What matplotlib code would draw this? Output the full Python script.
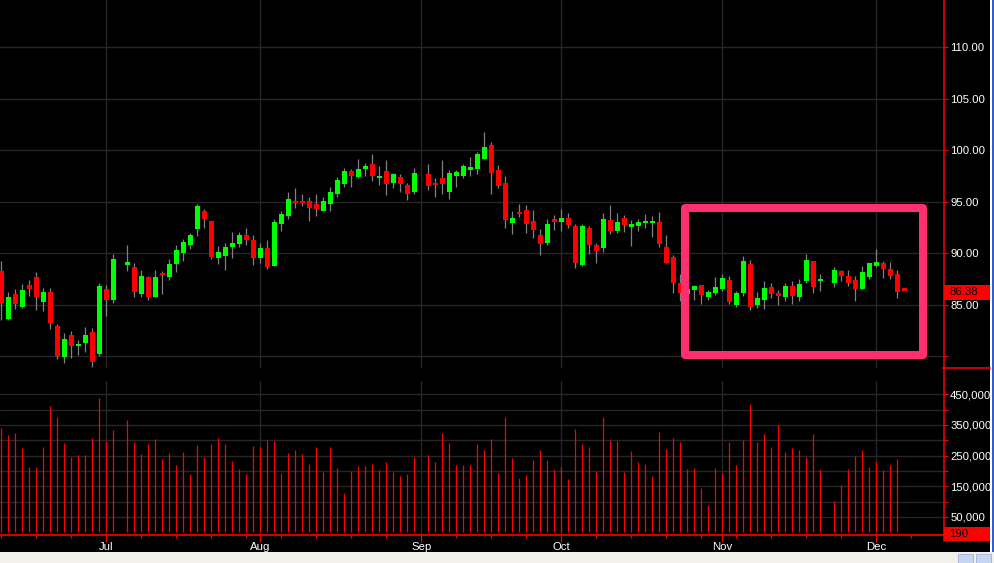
"""
Daily candlestick chart with volume panel (black terminal style)
"""

import numpy as np
import matplotlib.pyplot as plt
from matplotlib.patches import Rectangle
from matplotlib.lines import Line2D
from matplotlib.transforms import blended_transform_factory

nan = np.nan

# ==================== Data ====================
# one slot per trading day, nan = market holiday (Jul 4, Labor Day, Thanksgiving)
opens = [88.23, 83.6, 86.0, 84.83, 86.91, 87.65, 85.22, 86.19, 82.89, 79.92,
         82.02, 80.95, 81.24, 82.31, 80.17, 86.49, 85.42, nan, 88.85, 88.62,
         86.0, 87.65, 85.8, 88.07, 87.65, 88.91, 89.98, 90.85, 92.33, 94.15,
         93.18, 89.53, 89.72, 90.6, 90.88, 91.73, 91.24, 89.53, 90.47, 88.75,
         92.83, 93.57, 95.06, 95.06, 95.03, 94.83, 94.15, 94.74, 95.71, 96.68,
         97.94, 97.36, 98.14, 98.62, 97.26, 97.94, 96.87, 97.36, 96.58, 95.9,
         nan, 97.65, 96.87, 97.26, 95.9, 97.46, 97.46, 98.04, 98.14, 99.2,
         100.47, 98.04, 96.81, 92.93, 93.87, 94.16, 93.09, 91.73, 90.95, 93.28,
         92.99, 93.38, 92.6, 88.82, 92.41, 90.76, 90.47, 93.19, 92.12, 93.38,
         92.51, 92.6, 92.89, 92.93, 92.99, 90.57, 89.59, 87.07, 86.0, 86.39,
         86.87, 85.71, 86.1, 86.49, 87.36, 84.99, 86.1, 88.91, 84.93, 85.42,
         86.68, 86.1, 85.71, 86.78, 85.71, 87.26, 89.2, 87.26, nan, 87.07,
         88.23, 87.84, 87.36, 86.49, 87.65, 88.81, 89.01, 88.52, 87.94, 86.38]
highs = [89.2, 86.2, 86.49, 86.97, 87.36, 88.17, 86.58, 86.58, 83.09, 82.21,
         82.5, 81.53, 82.8, 82.7, 87.16, 86.87, 89.88, nan, 90.85, 89.01,
         88.33, 87.84, 88.33, 88.23, 89.49, 90.85, 91.34, 91.92, 94.83, 94.25,
         93.18, 90.66, 90.95, 92.02, 92.02, 92.5, 91.82, 90.95, 91.24, 93.28,
         94.06, 95.98, 96.29, 95.8, 95.42, 95.71, 95.51, 96.48, 97.36, 98.23,
         98.14, 99.11, 98.81, 99.59, 98.43, 99.01, 97.84, 97.65, 96.87, 98.23,
         nan, 98.62, 97.26, 99.01, 98.04, 98.04, 98.62, 99.3, 99.88, 101.73,
         100.85, 98.53, 97.46, 94.06, 94.74, 94.64, 94.16, 92.31, 93.28, 93.67,
         94.25, 93.87, 92.8, 92.8, 92.6, 90.95, 93.87, 94.64, 93.87, 93.67,
         93.19, 93.28, 93.77, 93.57, 93.96, 91.73, 89.79, 87.94, 86.9, 86.87,
         86.87, 86.39, 87.65, 87.94, 87.75, 86.29, 89.69, 89.3, 86.2, 87.26,
         87.07, 86.39, 87.16, 87.26, 87.46, 89.88, 89.2, 87.94, nan, 88.62,
         88.33, 88.33, 87.84, 88.72, 89.01, 90.37, 89.2, 89.11, 88.33, 86.38]
lows = [83.5, 83.5, 84.54, 84.64, 85.84, 84.45, 84.35, 82.6, 79.69, 79.33,
        79.82, 80.08, 80.37, 79.0, 79.98, 83.86, 85.13, nan, 88.23, 85.8,
        85.71, 85.42, 85.8, 86.0, 87.36, 88.14, 89.2, 90.37, 91.66, 92.41,
        89.4, 88.94, 88.36, 89.53, 90.6, 90.76, 88.85, 89.01, 88.46, 88.75,
        92.15, 93.28, 94.35, 94.54, 93.18, 93.57, 94.06, 94.15, 95.42, 96.48,
        96.48, 97.26, 97.46, 96.97, 96.58, 95.61, 96.29, 95.9, 95.13, 95.71,
        nan, 96.19, 95.42, 95.8, 95.22, 96.48, 97.26, 97.46, 97.65, 99.2,
        95.8, 96.29, 92.41, 91.83, 93.48, 91.92, 91.44, 89.79, 90.76, 92.22,
        92.12, 92.41, 88.56, 88.72, 89.88, 89.01, 90.08, 91.83, 91.92, 92.02,
        90.66, 92.12, 92.41, 91.54, 90.57, 89.01, 86.1, 85.35, 85.7, 85.42,
        85.03, 85.51, 85.9, 86.29, 85.03, 84.74, 85.81, 84.45, 84.64, 84.54,
        85.61, 84.93, 85.32, 85.03, 85.32, 87.07, 86.1, 86.29, nan, 86.68,
        87.26, 86.78, 85.32, 86.49, 87.46, 88.62, 87.55, 87.46, 85.61, 86.38]
closes = [85.16, 85.8, 85.03, 86.39, 86.49, 85.74, 86.19, 83.22, 80.01, 81.63,
          80.95, 81.15, 82.02, 79.4, 86.78, 85.51, 89.49, nan, 89.11, 86.19,
          87.84, 85.71, 87.65, 87.88, 88.91, 90.27, 91.05, 91.73, 94.54, 93.28,
          89.63, 90.08, 90.56, 90.95, 91.73, 91.27, 89.53, 90.47, 88.65, 92.99,
          93.77, 95.22, 94.9, 94.87, 94.35, 94.25, 95.03, 95.9, 97.16, 97.94,
          97.46, 98.14, 98.52, 97.46, 97.46, 96.68, 97.65, 96.68, 95.8, 97.75,
          nan, 96.49, 96.58, 96.68, 97.75, 97.91, 98.43, 98.33, 99.59, 100.27,
          97.84, 96.49, 93.19, 93.38, 93.77, 92.8, 92.22, 90.86, 92.8, 92.99,
          93.38, 92.73, 89.04, 92.6, 90.76, 90.18, 93.28, 92.12, 92.99, 92.7,
          92.8, 92.99, 93.09, 92.99, 90.86, 89.01, 87.07, 86.1, 86.5, 86.78,
          85.9, 86.2, 86.68, 87.55, 85.22, 86.1, 89.2, 84.83, 85.61, 86.58,
          86.0, 85.81, 86.78, 85.81, 86.97, 89.3, 86.68, 87.46, nan, 88.33,
          87.75, 87.16, 86.49, 88.14, 89.01, 89.11, 88.43, 87.84, 86.2, 86.38]
volumes = [340000, 317000, 324000, 275000, 213000, 213000, 278000, 412000, 376000, 291000,
           246000, 252000, 252000, 308000, 438000, 298000, 334000, nan, 366000, 295000,
           255000, 288000, 304000, 239000, 259000, 220000, 262000, 190000, 285000, 246000,
           288000, 308000, 288000, 233000, 207000, 190000, 282000, 278000, 301000, 298000,
           193000, 259000, 268000, 255000, 223000, 278000, 197000, 278000, 210000, 128000,
           200000, 216000, 216000, 223000, 203000, 229000, 197000, 184000, 190000, 246000,
           nan, 252000, 229000, 324000, 291000, 220000, 220000, 220000, 288000, 268000,
           304000, 193000, 376000, 242000, 177000, 187000, 236000, 268000, 236000, 207000,
           213000, 174000, 337000, 288000, 278000, 200000, 376000, 301000, 298000, 197000,
           265000, 229000, 223000, 184000, 327000, 272000, 308000, 295000, 207000, 210000,
           145000, 89000, 210000, 193000, 295000, 220000, 301000, 418000, 295000, 321000,
           278000, 350000, 262000, 275000, 268000, 246000, 321000, 207000, nan, 102000,
           154000, 207000, 249000, 268000, 213000, 233000, 203000, 220000, 239000, 190]

month_labels = ["Jul", "Aug", "Sep", "Oct", "Nov", "Dec"]
month_slots = [15, 37, 60, 80, 103, 125]
price_ticks = [80, 85, 90, 95, 100, 105, 110]
volume_ticks = [50000, 100000, 150000, 200000, 250000, 300000, 350000, 400000, 450000]
highlight_slots = (97.67, 131.7)
highlight_prices = (80.13, 94.35)

# ==================== Figure layout (pixel helpers) ====================
W, H = 994, 563
GRID = "#262626"
FONT = "Liberation Sans"
FS = 8.2


def fx(px):
    return px / W


def fy(py):
    return 1 - py / H


fig = plt.figure(figsize=(W / 100, H / 100), dpi=100, facecolor="black")
ax = fig.add_axes([0, fy(368.3), fx(944.3), 368.3 / H], facecolor="black")
axv = fig.add_axes([0, fy(534.5), fx(944.3), (534.5 - 381) / H], facecolor="black")

x = np.arange(len(opens))
o = np.array(opens)
h = np.array(highs)
l = np.array(lows)
c = np.array(closes)
v = np.array(volumes, dtype=float)
ok = ~np.isnan(o)

# ==================== Price panel ====================
for a in (ax, axv):
    a.set_xlim(-0.19, 134.71)
    for s in a.spines.values():
        s.set_visible(False)
    for m in month_slots:
        a.axvline(m, color=GRID, lw=1, zorder=0)

ax.set_ylim(78.83, 114.59)
for p in price_ticks:
    ax.axhline(p, color=GRID, lw=1, zorder=0)

up = c > o   # unchanged bars are drawn red
body_lo = np.minimum(o, c)
body_h = np.maximum(np.abs(c - o), 0.2)
ax.vlines(x[ok], l[ok], h[ok], colors="#808080", lw=0.9, zorder=2)
ax.bar(x[ok], body_h[ok], bottom=body_lo[ok], width=0.72,
       color=np.where(up, "#00ff00", "#ff0000")[ok], lw=0, zorder=3)

ax.yaxis.tick_right()
ax.set_yticks(price_ticks)
ax.set_yticklabels(["" if p == 80 else f"{p:.2f}" for p in price_ticks],
                   family=FONT, fontsize=FS)
ax.tick_params(axis="y", colors="red", labelcolor="white", length=3, width=0.9, pad=1.5)
ax.tick_params(axis="x", bottom=False, labelbottom=False)

# pink highlight box round the last weeks
ax.add_patch(Rectangle((highlight_slots[0], highlight_prices[0]),
                       highlight_slots[1] - highlight_slots[0],
                       highlight_prices[1] - highlight_prices[0],
                       fill=False, ec="#ff2f6f", lw=5.8, joinstyle="round",
                       clip_on=False, zorder=6))

# last price flag
last_close = closes[-1]
tr = blended_transform_factory(ax.transAxes, ax.transData)
ax.add_patch(Rectangle((1.0, last_close - 0.87), 0.0497, 1.36, transform=tr,
                       fc="red", ec="none", clip_on=False, zorder=7))
ax.text(1.005, last_close - 0.17, f"{last_close:.2f}", transform=tr, color="black",
        family=FONT, fontsize=FS, va="center", ha="left", zorder=8)

# ==================== Volume panel ====================
axv.set_ylim(-7200, 493000)
for t in volume_ticks:
    axv.axhline(t, color=GRID, lw=1, zorder=0)
vok = ~np.isnan(v)
axv.vlines(x[vok], 0, v[vok], colors="red", lw=0.9, zorder=2)

axv.spines["bottom"].set_visible(True)
axv.spines["bottom"].set_color("red")
axv.spines["bottom"].set_linewidth(1.2)

axv.yaxis.tick_right()
axv.set_yticks(volume_ticks)
axv.set_yticklabels(["" if t % 100000 == 0 else f"{t:,}" for t in volume_ticks],
                    family=FONT, fontsize=FS)
axv.tick_params(axis="y", colors="red", labelcolor="white", length=3, width=0.9, pad=1.2)

axv.set_xticks(month_slots)
axv.set_xticklabels(month_labels, family=FONT, fontsize=FS)
axv.set_xticks(range(0, 131, 5), minor=True)
axv.tick_params(axis="x", which="major", colors="red", labelcolor="white",
                length=5, width=0.9, pad=0.5)
axv.tick_params(axis="x", which="minor", colors="red", length=2.2, width=0.9)

# last volume flag
last_vol = volumes[-1]
trv = blended_transform_factory(axv.transAxes, axv.transData)
axv.add_patch(Rectangle((1.0, last_vol - 28600), 0.0497, 45800, transform=trv,
                        fc="red", ec="none", clip_on=False, zorder=7))
axv.text(1.005, last_vol - 5700, f"{last_vol:,}", transform=trv, color="black",
         family=FONT, fontsize=FS, va="center", ha="left", zorder=8)

# ==================== Frame decoration ====================
fig.add_artist(Line2D([fx(944.3)] * 2, [fy(0), fy(541)], color="red", lw=1.1))
fig.add_artist(Line2D([fx(943), fx(990)], [fy(368.3)] * 2, color="red", lw=1.1))
fig.add_artist(Rectangle((0, 0), 1, (H - 552.3) / H, transform=fig.transFigure,
                         fc="#f1f0ea", ec="none"))
fig.add_artist(Rectangle((fx(990), fy(552.3)), fx(1.5), 552.3 / H,
                         transform=fig.transFigure, fc="white", ec="none"))
fig.add_artist(Rectangle((fx(991.5), fy(552.3)), fx(2.5), 552.3 / H,
                         transform=fig.transFigure, fc="#2f5fd0", ec="none"))
for bx in (958, 976):
    fig.add_artist(Rectangle((fx(bx), 0), fx(15), (H - 554) / H,
                             transform=fig.transFigure, fc="#c7d5f3", ec="#9fb3de", lw=0.6))

fig.savefig("out.png", dpi=100, facecolor="black")
